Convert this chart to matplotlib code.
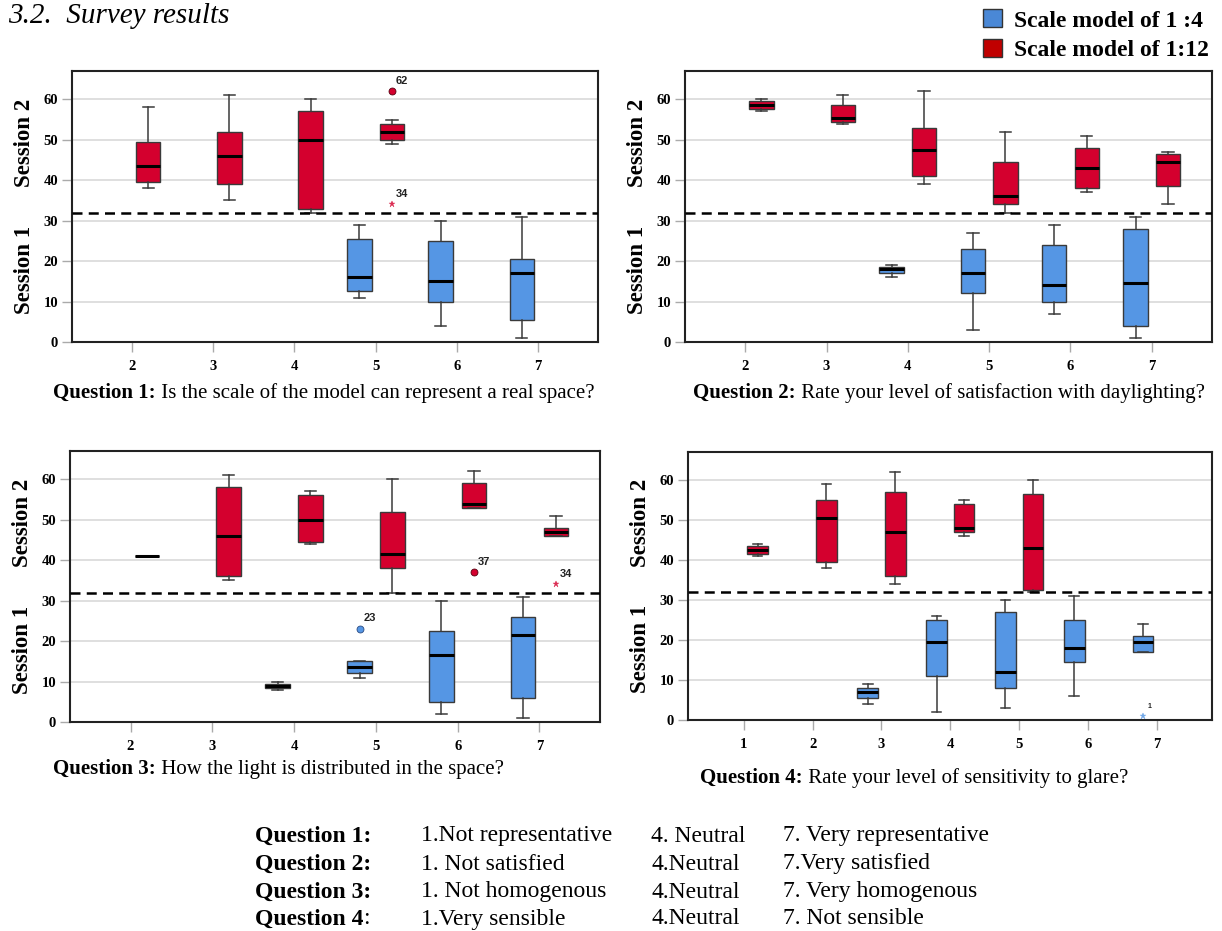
import numpy as np
import matplotlib
matplotlib.use("Agg")
import matplotlib.pyplot as plt
from matplotlib.patches import Patch

plt.rcParams['font.family'] = ['Liberation Serif', 'DejaVu Serif']

RED = '#d4002e'
BLUE = '#5596e4'
EDGE = '#3a3a3a'

# five-number summaries per category: [whislo, q1, median, q3, whishi]
q1_red_cats = [2, 3, 4, 5]
q1_red = [[38, 39.5, 43.5, 49.5, 58], [35, 39, 46, 52, 61],
          [32, 33, 50, 57, 60], [49, 50, 52, 54, 55]]
q1_blue_cats = [5, 6, 7]
q1_blue = [[11, 12.5, 16, 25.5, 29], [4, 10, 15, 25, 30], [1, 5.5, 17, 20.5, 31]]
q1_outliers = [(5, 'red', 62, 'o', '62'), (5, 'red', 34, '*', '34')]

q2_red_cats = [2, 3, 4, 5, 6, 7]
q2_red = [[57, 57.5, 58.5, 59.5, 60], [54, 54.5, 55.5, 58.5, 61],
          [39, 41, 47.5, 53, 62], [32, 34, 36, 44.5, 52],
          [37, 38, 43, 48, 51], [34, 38.5, 44.5, 46.5, 47]]
q2_blue_cats = [4, 5, 6, 7]
q2_blue = [[16, 17, 18, 18.5, 19], [3, 12, 17, 23, 27],
           [7, 10, 14, 24, 29], [1, 4, 14.5, 28, 31]]
q2_outliers = []

q3_red_cats = [2, 3, 4, 5, 6, 7]
q3_red = [[41, 41, 41, 41, 41], [35, 36, 46, 58, 61],
          [44, 44.5, 50, 56, 57], [32, 38, 41.5, 52, 60],
          [53, 53, 54, 59, 62], [46, 46, 47, 48, 51]]
q3_blue_cats = [4, 5, 6, 7]
q3_blue = [[8, 8.5, 9, 9.5, 10], [11, 12, 13.5, 15, 15],
           [2, 5, 16.5, 22.5, 30], [1, 6, 21.5, 26, 31]]
q3_outliers = [(6, 'red', 37, 'o', '37'), (7, 'red', 34, '*', '34'),
               (5, 'blue', 23, 'o', '23')]

q4_red_cats = [1, 2, 3, 4, 5]
q4_red = [[41, 41.5, 42.5, 43.5, 44], [38, 39.5, 50.5, 55, 59],
          [34, 36, 47, 57, 62], [46, 47, 48, 54, 55],
          [32, 32.5, 43, 56.5, 60]]
q4_blue_cats = [3, 4, 5, 6, 7]
q4_blue = [[4, 5.5, 7, 8, 9], [2, 11, 19.5, 25, 26], [3, 8, 12, 27, 30],
           [6, 14.5, 18, 25, 31], [17, 17, 19.5, 21, 24]]
q4_outliers = [(7, 'blue', 1, '*', '1')]

session_split = 32

captions = [
    ("Question 1:", " Is the scale of the model can represent a real space?"),
    ("Question 2:", " Rate your level of satisfaction with daylighting?"),
    ("Question 3:", " How the light is distributed in the space?"),
    ("Question 4:", " Rate your level of sensitivity to glare?"),
]

scale_rows = [
    ("Question 1:", "", "1.Not representative", "4. Neutral", "7. Very representative"),
    ("Question 2:", "", "1. Not satisfied", "4.Neutral", "7.Very satisfied"),
    ("Question 3:", "", "1. Not homogenous", "4.Neutral", "7. Very homogenous"),
    ("Question 4", ":", "1.Very sensible", "4.Neutral", "7. Not sensible"),
]


def draw_panel(ax, red_cats, red, blue_cats, blue, outliers, xticks, xlim):
    groups = [(blue_cats, blue, BLUE, -0.2), (red_cats, red, RED, 0.2)]
    for cats, stats, color, off in groups:
        bstats = [dict(whislo=s[0], q1=s[1], med=s[2], q3=s[3], whishi=s[4], fliers=[])
                  for s in stats]
        ax.bxp(bstats, positions=np.array(cats) + off, widths=0.3, capwidths=0.14,
               patch_artist=True, showfliers=False, manage_ticks=False,
               boxprops=dict(facecolor=color, edgecolor=EDGE, linewidth=1.0),
               medianprops=dict(color='black', linewidth=2.2),
               whiskerprops=dict(color=EDGE, linewidth=1.1),
               capprops=dict(color=EDGE, linewidth=1.1), zorder=3)

    for cat, grp, val, mk, lab in outliers:
        off = 0.2 if grp == 'red' else -0.2
        col = RED if grp == 'red' else BLUE
        if mk == 'o':
            ax.plot(cat + off, val, marker='o', ms=5, mfc=col,
                    mec='#550010' if grp == 'red' else '#2a4a80',
                    mew=0.6, ls='none', zorder=4)
            fs = 8
        else:
            ax.plot(cat + off, val, marker='*', ms=5, mfc=col, mec=col, mew=0.3,
                    alpha=0.8, ls='none', zorder=4)
            fs = 8 if lab != '1' else 5
        ax.annotate(lab, (cat + off, val), xytext=(3, 4), textcoords='offset points',
                    fontsize=fs, fontweight='bold', family='Liberation Sans',
                    ha='left', va='bottom', color='#222222')

    ax.axhline(session_split, color='black', ls=(0, (4, 2.5)), lw=1.8, zorder=5)
    ax.set_xlim(*xlim)
    ax.set_ylim(0, 67)
    ax.set_xticks(xticks)
    ax.set_yticks(range(0, 61, 10))
    ax.yaxis.grid(True, color='#d9d9d9', lw=1.2)
    ax.set_axisbelow(True)
    ax.tick_params(axis='both', color='#aaaaaa', length=7, width=1, labelsize=10.5)
    ax.tick_params(axis='x', pad=6)
    ax.tick_params(axis='y', pad=3)
    for t in ax.get_xticklabels() + ax.get_yticklabels():
        t.set_fontweight('bold')
    for sp in ax.spines.values():
        sp.set_color('#222222')
        sp.set_linewidth(1.5)
    ax.text(-0.09, 0.734, 'Session 2', rotation=90, transform=ax.transAxes,
            ha='center', va='center', fontsize=16.5, fontweight='bold')
    ax.text(-0.09, 0.266, 'Session 1', rotation=90, transform=ax.transAxes,
            ha='center', va='center', fontsize=16.5, fontweight='bold')


W, H = 1222, 931
fig = plt.figure(figsize=(W / 100, H / 100), dpi=100)


def px_axes(left, top, right, bottom):
    return fig.add_axes([left / W, 1 - bottom / H, (right - left) / W, (bottom - top) / H])


ax1 = px_axes(72, 71, 598, 342)
ax2 = px_axes(685, 71, 1212, 342)
ax3 = px_axes(70, 451, 600, 722)
ax4 = px_axes(688, 452, 1212, 720)

draw_panel(ax1, q1_red_cats, q1_red, q1_blue_cats, q1_blue, q1_outliers, range(2, 8), (1.26, 7.74))
draw_panel(ax2, q2_red_cats, q2_red, q2_blue_cats, q2_blue, q2_outliers, range(2, 8), (1.26, 7.74))
draw_panel(ax3, q3_red_cats, q3_red, q3_blue_cats, q3_blue, q3_outliers, range(2, 8), (1.26, 7.74))
draw_panel(ax4, q4_red_cats, q4_red, q4_blue_cats, q4_blue, q4_outliers, range(1, 8), (0.19, 7.8))

# captions under each panel (bold prefix + regular rest)
cap_pos = [(53, 393), (693, 393), (53, 769), (700, 778)]
for (bold, rest), (x, y) in zip(captions, cap_pos):
    t = fig.text(x / W, 1 - y / H, bold, fontsize=15, fontweight='bold', ha='left', va='center')
    fig.add_artist(plt.Annotation(rest, xy=(1, 0), xycoords=t, ha='left', va='bottom', fontsize=15))

# section title
fig.text(8 / W, 1 - 16 / H, '3.2.  Survey results', fontsize=21, style='italic', ha='left', va='center')

# legend
handles = [Patch(facecolor='#4a88d6', edgecolor='#333333', lw=1.0),
           Patch(facecolor='#c00000', edgecolor='#333333', lw=1.0)]
fig.legend(handles, ['Scale model of 1 :4', 'Scale model of 1:12'], loc='upper right',
           bbox_to_anchor=(1211 / W, 1 - 7 / H), frameon=False,
           prop=dict(family='Liberation Serif', weight='bold', size=17),
           handlelength=0.82, handleheight=0.8, handletextpad=0.5, labelspacing=0.3,
           borderpad=0.1, borderaxespad=0)

# scale description block
col_x = [255, 421, 651, 783]
row_y = [836, 864, 892, 919]
for (q, colon, a, b, c), y in zip(scale_rows, row_y):
    t = fig.text(col_x[0] / W, 1 - y / H, q, fontsize=17, fontweight='bold', ha='left', va='center')
    if colon:
        fig.add_artist(plt.Annotation(colon, xy=(1, 0), xycoords=t, ha='left', va='bottom', fontsize=17))
    for x, s in zip(col_x[1:], (a, b, c)):
        fig.text(x / W, 1 - y / H, s, fontsize=17, ha='left', va='center')

fig.savefig('out.png', dpi=100)
